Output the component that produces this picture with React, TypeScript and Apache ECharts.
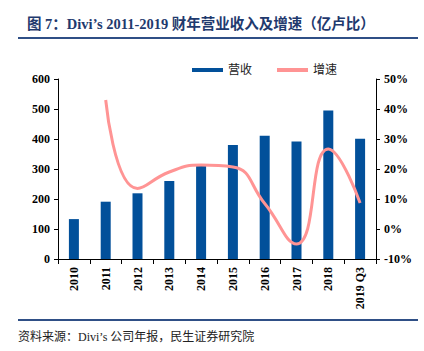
import React, { useEffect, useRef } from "react";
import * as echarts from "echarts";

const categories = ["2010", "2011", "2012", "2013", "2014", "2015", "2016", "2017", "2018", "2019 Q3"];
const revenue = [133, 191, 219, 260, 311, 380, 411, 392, 495, 401];
const growth = [null, 43, 13.5, 19, 21.3, 20.7, 8.5, -5, 26.7, 8.7];
const leftTicks = { min: 0, max: 600, interval: 100 };
const rightTicks = { min: -10, max: 50, interval: 10 };

const serif = "'Times New Roman', 'Liberation Serif', 'Noto Sans CJK SC', serif";

export default function App() {
  const ref = useRef<HTMLDivElement>(null);
  useEffect(() => {
    document.body.style.margin = "0";
    const chart = echarts.init(ref.current!, null, { renderer: "svg" });
    chart.setOption({
      animation: false,
      backgroundColor: "#fff",
      graphic: [
        {
          type: "text",
          left: 27,
          top: 17,
          style: {
            text: "图 7：Divi’s 2011-2019 财年营业收入及增速（亿卢比）",
            font: `bold 14.5px ${serif}`,
            fill: "#1f3a6e",
          },
        },
        { type: "rect", shape: { x: 18, y: 37, width: 400, height: 2 }, style: { fill: "#2f4f86" } },
        { type: "rect", shape: { x: 18, y: 319, width: 400, height: 2 }, style: { fill: "#2f4f86" } },
        {
          type: "text",
          left: 18,
          top: 331,
          style: {
            text: "资料来源：Divi’s 公司年报，民生证券研究院",
            font: `12px ${serif}`,
            fill: "#222",
          },
        },
      ],
      legend: {
        left: 187,
        top: 59,
        itemGap: 25,
        itemWidth: 31,
        itemHeight: 4,
        textStyle: { fontFamily: serif, fontSize: 12, color: "#222" },
        data: [
          { name: "营收", icon: "rect" },
          { name: "增速", icon: "rect" },
        ],
      },
      grid: { left: 58, right: 48, top: 79, bottom: 92 },
      xAxis: {
        type: "category",
        data: categories,
        axisLine: { lineStyle: { color: "#000", width: 1 } },
        axisTick: { show: true, length: 5, lineStyle: { color: "#000" } },
        axisLabel: {
          rotate: 90,
          interval: 0,
          color: "#000",
          fontFamily: serif,
          fontWeight: "bold",
          fontSize: 12,
          margin: 8,
        },
      },
      yAxis: [
        {
          type: "value",
          ...leftTicks,
          splitLine: { show: false },
          axisLine: { show: true, lineStyle: { color: "#000" } },
          axisTick: { show: true, length: 4, lineStyle: { color: "#000" } },
          axisLabel: { color: "#000", fontFamily: serif, fontWeight: "bold", fontSize: 12, margin: 8 },
        },
        {
          type: "value",
          ...rightTicks,
          splitLine: { show: false },
          axisLine: { show: true, lineStyle: { color: "#000" } },
          axisTick: { show: true, length: 4, lineStyle: { color: "#000" } },
          axisLabel: {
            color: "#000",
            fontFamily: serif,
            fontWeight: "bold",
            fontSize: 12,
            margin: 8,
            formatter: "{value}%",
          },
        },
      ],
      series: [
        {
          name: "营收",
          type: "bar",
          data: revenue,
          barWidth: 10,
          itemStyle: { color: "#02509a" },
        },
        {
          name: "增速",
          type: "line",
          yAxisIndex: 1,
          data: growth,
          smooth: 0.5,
          symbol: "none",
          connectNulls: false,
          lineStyle: { color: "#ff9494", width: 3 },
          itemStyle: { color: "#ff9494" },
        },
      ],
    });
    return () => chart.dispose();
  }, []);
  return <div ref={ref} style={{ width: 424, height: 351 }} />;
}
